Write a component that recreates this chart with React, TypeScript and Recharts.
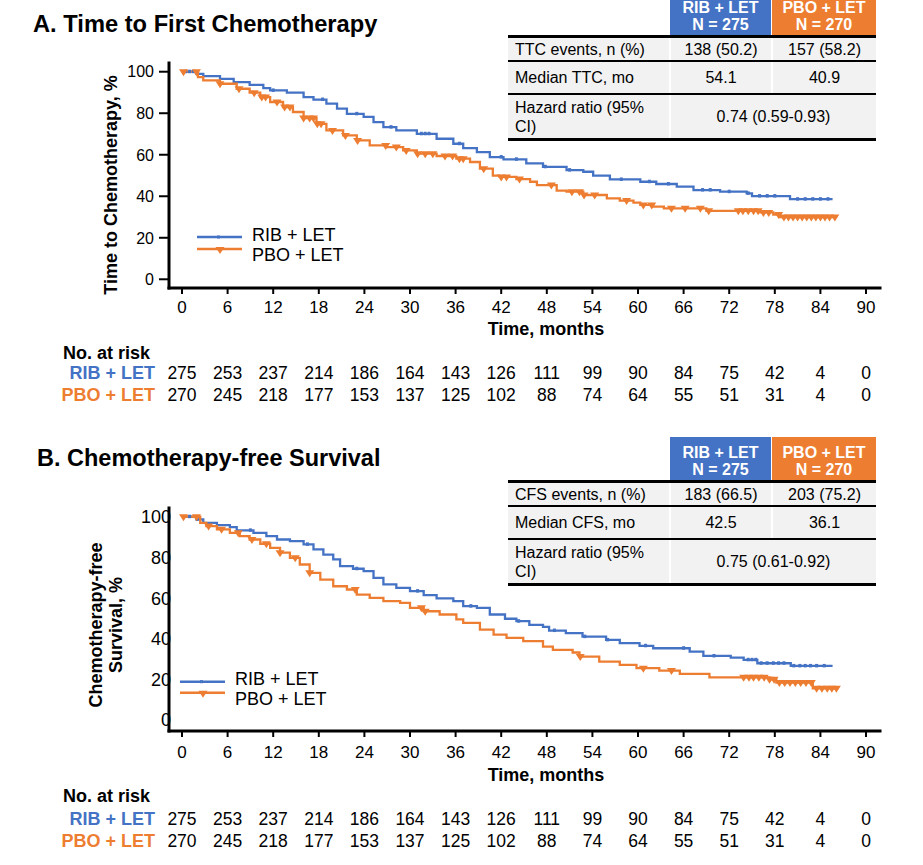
import React from 'react';
import { ComposedChart, Line, Scatter, XAxis, YAxis } from 'recharts';

const BLUE = '#4472C4';
const ORANGE = '#ED7D31';
const FONT = '"Liberation Sans", Arial, Helvetica, sans-serif';

const X_TICKS = [0, 6, 12, 18, 24, 30, 36, 42, 48, 54, 60, 66, 72, 78, 84, 90];
const Y_TICKS = [0, 20, 40, 60, 80, 100];
const RISK_RIB = [275, 253, 237, 214, 186, 164, 143, 126, 111, 99, 90, 84, 75, 42, 4, 0];
const RISK_PBO = [270, 245, 218, 177, 153, 137, 125, 102, 88, 74, 64, 55, 51, 31, 4, 0];

// Panel A: Time to first chemotherapy
const ttcRibT = [0, 1.9, 2.8, 5.0, 6.8, 8.9, 10.7, 11.6, 13.8, 16.0, 17.3, 19.0, 20.4, 21.7, 23.9, 25.2, 26.5, 28.2, 30.9, 33.5, 35.7, 37.0, 38.8, 40.5, 42.3, 45.3, 47.5, 50.6, 52.8, 54.1, 56.3, 60.3, 62.4, 65.1, 67.3, 70.8, 74.3, 75.0, 80.0, 85.6];
const ttcRibS = [100, 99, 97.9, 96.6, 95, 93.7, 92.1, 91, 89.9, 87.8, 86.6, 84.6, 82.2, 79.7, 78.2, 75.7, 73.3, 71.7, 70.1, 67.7, 65.3, 63.2, 61.3, 58.9, 57.8, 55.8, 54.2, 52.6, 51.8, 49.9, 48.1, 47, 45.9, 44.6, 43, 42.2, 41.4, 40.1, 38.6, 38.6];
const ttcRibCens = [0.5, 1, 1.5, 12, 18.5, 23, 27.5, 31.5, 32, 32.5, 36.5, 42, 44, 47.8, 51, 57.8, 61.5, 64, 68.5, 69.5, 72, 74.5, 76, 77, 78, 81, 82, 83, 84, 85];
const ttcPboT = [0, 2.1, 2.8, 5.0, 7.2, 8.9, 10.3, 11.6, 13.3, 14.6, 16.0, 17.7, 19.0, 21.2, 23.0, 24.7, 26.9, 29.1, 30.9, 33.5, 36.1, 37.9, 39.2, 40.9, 41.8, 44.0, 45.8, 46.7, 49.3, 50.6, 52.8, 55.9, 57.6, 59.4, 60.3, 62.0, 63.4, 69.0, 76.1, 77.8, 78.7, 86.0];
const ttcPboS = [100, 97.4, 95.8, 94.2, 91.8, 89.9, 87.8, 85.4, 83, 80.6, 77.7, 74.9, 71.7, 69.3, 66.9, 64.5, 63.7, 62.1, 60.5, 59.4, 58.1, 56.5, 53.3, 49.9, 49.3, 48.3, 47, 45.4, 42.7, 42.2, 40.6, 39, 37.9, 36.9, 35.8, 35, 34.2, 33, 32.2, 31.2, 30.0, 30.0];
const ttcPboCens = [0.2, 1.9, 5, 7.5, 9.5, 10.5, 11, 12.5, 13.5, 14.2, 16, 16.8, 17.3, 17.8, 18.3, 19.8, 21.5, 23.1, 26.8, 28.2, 29.5, 31, 32, 33, 34.6, 35.6, 36.5, 37, 39.7, 42, 42.7, 44.4, 48.6, 51.3, 52.3, 52.9, 54.3, 58.5, 60.7, 61.8, 64.4, 66.2, 68.2, 69.3, 73.2, 73.8, 74.5, 75.2, 75.8, 76.5, 77.2, 78.5, 79.2, 79.8, 80.4, 81, 81.6, 82.2, 82.8, 83.4, 84, 84.6, 85.2, 85.9];

// Panel B: Chemotherapy-free survival
const cfsRibT = [0, 1.9, 2.8, 4.6, 6.3, 7.2, 9.4, 11.1, 12.5, 14.2, 16.0, 17.3, 18.6, 19.9, 20.8, 22.5, 23.9, 25.2, 26.5, 28.2, 30.0, 31.8, 33.5, 35.7, 37.0, 38.8, 40.5, 42.5, 44.0, 45.7, 47.5, 48.3, 50.5, 52.7, 55.8, 57.6, 60.2, 62.0, 66.8, 68.6, 72.2, 73.9, 75.7, 80.1, 85.6];
const cfsRibS = [100, 98.7, 97, 95.9, 94.9, 93.3, 92.1, 90.5, 88.8, 88, 86.4, 83.9, 81.4, 79, 75.7, 74.4, 73.2, 69.9, 66.7, 65, 63.4, 61.4, 59.8, 58.5, 56, 55.2, 51.9, 49.8, 48.6, 46.8, 45.8, 44, 42.7, 41, 39.4, 37.8, 36.5, 35.3, 33.6, 31.5, 30.7, 29.6, 27.9, 26.6, 26.6];
const cfsRibCens = [1, 2, 9, 16.5, 23, 31, 38, 44.3, 49, 53, 56, 61, 66, 70, 74.5, 75, 75.5, 76.2, 77, 77.8, 78.5, 79.2, 80.5, 81.3, 82, 82.7, 83.5, 84.5];
const cfsPboT = [0, 2.4, 3.2, 4.6, 6.3, 7.6, 8.9, 10.3, 11.6, 12.9, 14.2, 15.5, 16.8, 18.2, 19.9, 21.7, 23.0, 24.7, 26.5, 28.7, 30.0, 31.8, 33.9, 36.1, 37.0, 39.2, 41.0, 42.7, 44.9, 47.5, 48.8, 51.4, 52.3, 54.9, 57.6, 59.8, 62.8, 65.5, 69.4, 77.3, 78.2, 83.0, 86.1];
const cfsPboS = [100, 97, 95.4, 93.8, 92.1, 90.5, 88.8, 86.7, 84.7, 82.3, 79.8, 76.5, 72.4, 69.1, 65.8, 64.2, 61.7, 60.1, 58.5, 57.6, 55.2, 53.5, 51.9, 49.5, 47.8, 44.5, 42, 40.4, 38.8, 36.1, 34.5, 33.2, 31.2, 28.7, 27.1, 25.5, 24.3, 22.7, 21, 20, 18.4, 15.6, 15.6];
const cfsPboCens = [0.2, 1.9, 3.5, 5.2, 7.4, 9.2, 11.1, 12.9, 14.9, 16.8, 22.8, 31.5, 32, 52.4, 60.7, 64.4, 73.9, 74.6, 75.2, 75.9, 76.6, 77.3, 77.9, 78.6, 79.3, 80, 80.7, 81.4, 82.1, 82.8, 83.5, 84.2, 84.9, 85.5, 86.1];

// Summary tables
const ttcStatLabels = ['TTC events, n (%)', 'Median TTC, mo'];
const ttcRibStats = ['138 (50.2)', '54.1'];
const ttcPboStats = ['157 (58.2)', '40.9'];
const ttcHR = '0.74 (0.59-0.93)';
const cfsStatLabels = ['CFS events, n (%)', 'Median CFS, mo'];
const cfsRibStats = ['183 (66.5)', '42.5'];
const cfsPboStats = ['203 (75.2)', '36.1'];
const cfsHR = '0.75 (0.61-0.92)';

type Pt = { t: number; s: number };
const toPoints = (t: number[], s: number[]): Pt[] => t.map((v, i) => ({ t: v, s: s[i] }));
const censorPoints = (ct: number[], t: number[], s: number[]): Pt[] =>
  ct.map((c) => {
    let v = s[0];
    for (let i = 0; i < t.length; i++) if (t[i] <= c) v = s[i];
    return { t: c, s: v };
  });

const Triangle = (props: any) => {
  const { cx, cy } = props;
  if (cx == null || cy == null) return null;
  return <path d={`M${cx - 4.5},${cy - 2.5} L${cx + 4.5},${cy - 2.5} L${cx},${cy + 4.5} Z`} fill={ORANGE} />;
};
const Tick = (props: any) => {
  const { cx, cy } = props;
  if (cx == null || cy == null) return null;
  return <rect x={cx - 1.5} y={cy - 2} width={3} height={3.5} fill={BLUE} />;
};

type PanelCfg = {
  top: number;
  height: number;
  marginTop: number;
  xAxisHeight: number;
  yDomain: [number, number];
  labelOff: number;
  risk1Off: number;
  risk2Off: number;
  yTickFont: number;
  yTickLine: boolean;
  rib: Pt[];
  pbo: Pt[];
  ribC: Pt[];
  pboC: Pt[];
};

const KMPanel = ({ cfg }: { cfg: PanelCfg }) => {
  const xTick = (p: any) => {
    const { x, y, payload } = p;
    const idx = X_TICKS.indexOf(payload.value);
    const base = y - 6;
    return (
      <g>
        <text x={x} y={base + cfg.labelOff} textAnchor="middle" fontSize={17} fontFamily={FONT} fill="#000">
          {payload.value}
        </text>
        <text x={x} y={base + cfg.risk1Off} textAnchor="middle" fontSize={17.5} fontFamily={FONT} fill="#000">
          {RISK_RIB[idx]}
        </text>
        <text x={x} y={base + cfg.risk2Off} textAnchor="middle" fontSize={17.5} fontFamily={FONT} fill="#000">
          {RISK_PBO[idx]}
        </text>
      </g>
    );
  };
  const yTick = (p: any) => {
    const { x, y, payload } = p;
    return (
      <text x={cfg.yTickLine ? x : x + 2} y={y} dy="0.36em" textAnchor="end" fontSize={cfg.yTickFont} fontFamily={FONT} fill="#000">
        {payload.value}
      </text>
    );
  };
  return (
    <div style={{ position: 'absolute', left: 0, top: cfg.top }}>
      <ComposedChart width={923} height={cfg.height} margin={{ top: cfg.marginTop, right: 43, left: 0, bottom: 0 }}>
        <XAxis
          type="number"
          dataKey="t"
          domain={[-1.71, 91.84]}
          ticks={X_TICKS}
          interval={0}
          allowDataOverflow
          height={cfg.xAxisHeight}
          tickSize={6}
          tickMargin={0}
          axisLine={{ stroke: '#000', strokeWidth: 3, strokeLinecap: 'square' }}
          tickLine={{ stroke: '#000', strokeWidth: 2 }}
          tick={xTick}
        />
        <YAxis
          type="number"
          dataKey="s"
          domain={cfg.yDomain}
          ticks={Y_TICKS}
          interval={0}
          allowDataOverflow
          width={169}
          tickSize={cfg.yTickLine ? 10 : 0}
          tickMargin={cfg.yTickLine ? 5 : 0}
          axisLine={{ stroke: '#000', strokeWidth: 3, strokeLinecap: 'square' }}
          tickLine={cfg.yTickLine ? { stroke: '#000', strokeWidth: 2 } : false}
          tick={yTick}
        />
        <Line data={cfg.rib} dataKey="s" type="stepAfter" stroke={BLUE} strokeWidth={2.3} dot={false} isAnimationActive={false} />
        <Line data={cfg.pbo} dataKey="s" type="stepAfter" stroke={ORANGE} strokeWidth={2.3} dot={false} isAnimationActive={false} />
        <Scatter data={cfg.ribC} dataKey="s" shape={Tick} isAnimationActive={false} />
        <Scatter data={cfg.pboC} dataKey="s" shape={Triangle} isAnimationActive={false} />
      </ComposedChart>
    </div>
  );
};

const StatsTable = ({ top, labels, rib, pbo, hr }: { top: number; labels: string[]; rib: string[]; pbo: string[]; hr: string }) => {
  const cell = (left: number, t: number, w: number, h: number, content: React.ReactNode, align: 'left' | 'center', extra: any = {}) => (
    <div
      style={{
        position: 'absolute',
        left,
        top: t,
        width: w,
        height: h,
        background: '#F2F2F2',
        display: 'flex',
        alignItems: 'center',
        justifyContent: align === 'left' ? 'flex-start' : 'center',
        paddingLeft: align === 'left' ? 7 : 0,
        boxSizing: 'border-box',
        fontSize: 16,
        lineHeight: '19px',
        color: '#000',
        whiteSpace: 'nowrap',
        ...extra,
      }}
    >
      {content}
    </div>
  );
  const rule = (t: number, h: number) => (
    <div style={{ position: 'absolute', left: 0, top: t, width: 368, height: h, background: '#000' }} />
  );
  const header = (left: number, w: number, bg: string, l1: string, l2: string) => (
    <div
      style={{
        position: 'absolute',
        left,
        top: 0,
        width: w,
        height: 43,
        background: bg,
        color: '#fff',
        fontWeight: 700,
        fontSize: 16,
        lineHeight: '17px',
        textAlign: 'center',
        paddingTop: 7,
        boxSizing: 'border-box',
      }}
    >
      <div>{l1}</div>
      <div>{l2}</div>
    </div>
  );
  return (
    <div style={{ position: 'absolute', left: 508, top, width: 368, height: 148, fontFamily: FONT }}>
      {header(162, 101, BLUE, 'RIB + LET', 'N = 275')}
      {header(264, 104, ORANGE, 'PBO + LET', 'N = 270')}
      {rule(43, 3)}
      {cell(0, 46, 161, 22, labels[0], 'left')}
      {cell(163, 46, 100, 22, rib[0], 'center')}
      {cell(265, 46, 103, 22, pbo[0], 'center')}
      {rule(68, 2)}
      {cell(0, 70, 161, 31, labels[1], 'left')}
      {cell(163, 70, 100, 31, rib[1], 'center')}
      {cell(265, 70, 103, 31, pbo[1], 'center')}
      {rule(101, 2)}
      {cell(0, 103, 161, 43, <span>Hazard ratio (95%<br />CI)</span>, 'left')}
      {cell(163, 103, 205, 43, hr, 'center')}
      {rule(146, 2.5)}
    </div>
  );
};

const Legend = ({ x, yBlue, yOrange, yText1, yText2, textX }: any) => (
  <g>
    <line x1={x} y1={yBlue} x2={x + 45} y2={yBlue} stroke={BLUE} strokeWidth={2.5} />
    <rect x={x + 20} y={yBlue - 1.5} width={3} height={3} fill={BLUE} />
    <line x1={x} y1={yOrange} x2={x + 45} y2={yOrange} stroke={ORANGE} strokeWidth={2.5} />
    <path d={`M${x + 18.5},${yOrange - 2} L${x + 27.5},${yOrange - 2} L${x + 23},${yOrange + 5} Z`} fill={ORANGE} />
    <text x={textX} y={yText1} dominantBaseline="central" fontSize={18} fontFamily={FONT} fill="#000">RIB + LET</text>
    <text x={textX} y={yText2} dominantBaseline="central" fontSize={18} fontFamily={FONT} fill="#000">PBO + LET</text>
  </g>
);

export default function App() {
  const panelA: PanelCfg = {
    top: 0,
    height: 420,
    marginTop: 63,
    xAxisHeight: 132,
    yDomain: [-4.2, 104.2],
    labelOff: 25,
    risk1Off: 90.8,
    risk2Off: 113,
    yTickFont: 16,
    yTickLine: true,
    rib: toPoints(ttcRibT, ttcRibS),
    pbo: toPoints(ttcPboT, ttcPboS),
    ribC: censorPoints(ttcRibCens, ttcRibT, ttcRibS),
    pboC: censorPoints(ttcPboCens, ttcPboT, ttcPboS),
  };
  const panelB: PanelCfg = {
    top: 440,
    height: 425,
    marginTop: 68,
    xAxisHeight: 134,
    yDomain: [-5.42, 104.29],
    labelOff: 26.8,
    risk1Off: 94,
    risk2Off: 116,
    yTickFont: 18,
    yTickLine: false,
    rib: toPoints(cfsRibT, cfsRibS),
    pbo: toPoints(cfsPboT, cfsPboS),
    ribC: censorPoints(cfsRibCens, cfsRibT, cfsRibS),
    pboC: censorPoints(cfsPboCens, cfsPboT, cfsPboS),
  };
  return (
    <div style={{ position: 'absolute', left: 0, top: 0, width: 923, height: 865, overflow: 'hidden', background: '#fff', fontFamily: FONT }}>
      <KMPanel cfg={panelA} />
      <KMPanel cfg={panelB} />
      <svg width={923} height={865} style={{ position: 'absolute', left: 0, top: 0, pointerEvents: 'none' }}>
        <text x={33} y={32} fontSize={23.7} fontWeight={700} fontFamily={FONT} fill="#000">A. Time to First Chemotherapy</text>
        <text x={37} y={465.5} fontSize={23.5} fontWeight={700} fontFamily={FONT} fill="#000">B. Chemotherapy-free Survival</text>
        <text x={111} y={185} transform="rotate(-90 111 185)" textAnchor="middle" dominantBaseline="central" fontSize={18} fontWeight={700} fontFamily={FONT} fill="#000">
          Time to Chemotherapy, %
        </text>
        <text x={96} y={625} transform="rotate(-90 96 625)" textAnchor="middle" dominantBaseline="central" fontSize={18} fontWeight={700} fontFamily={FONT} fill="#000">
          Chemotherapy-free
        </text>
        <text x={116} y={625} transform="rotate(-90 116 625)" textAnchor="middle" dominantBaseline="central" fontSize={18} fontWeight={700} fontFamily={FONT} fill="#000">
          Survival, %
        </text>
        <text x={546} y={335} textAnchor="middle" fontSize={18} fontWeight={700} fontFamily={FONT} fill="#000">Time, months</text>
        <text x={546} y={781} textAnchor="middle" fontSize={18} fontWeight={700} fontFamily={FONT} fill="#000">Time, months</text>
        <text x={63} y={358.5} fontSize={18} fontWeight={700} fontFamily={FONT} fill="#000">No. at risk</text>
        <text x={155} y={378.8} textAnchor="end" fontSize={18} fontWeight={700} fontFamily={FONT} fill={BLUE}>RIB + LET</text>
        <text x={155} y={401} textAnchor="end" fontSize={18} fontWeight={700} fontFamily={FONT} fill={ORANGE}>PBO + LET</text>
        <text x={63} y={802} fontSize={18} fontWeight={700} fontFamily={FONT} fill="#000">No. at risk</text>
        <text x={155} y={825} textAnchor="end" fontSize={18} fontWeight={700} fontFamily={FONT} fill={BLUE}>RIB + LET</text>
        <text x={155} y={847} textAnchor="end" fontSize={18} fontWeight={700} fontFamily={FONT} fill={ORANGE}>PBO + LET</text>
        <Legend x={197} yBlue={237} yOrange={249} yText1={235} yText2={255} textX={252} />
        <Legend x={180} yBlue={681.7} yOrange={692.7} yText1={679} yText2={699} textX={235} />
      </svg>
      <StatsTable top={-8} labels={ttcStatLabels} rib={ttcRibStats} pbo={ttcPboStats} hr={ttcHR} />
      <StatsTable top={437} labels={cfsStatLabels} rib={cfsRibStats} pbo={cfsPboStats} hr={cfsHR} />
    </div>
  );
}
